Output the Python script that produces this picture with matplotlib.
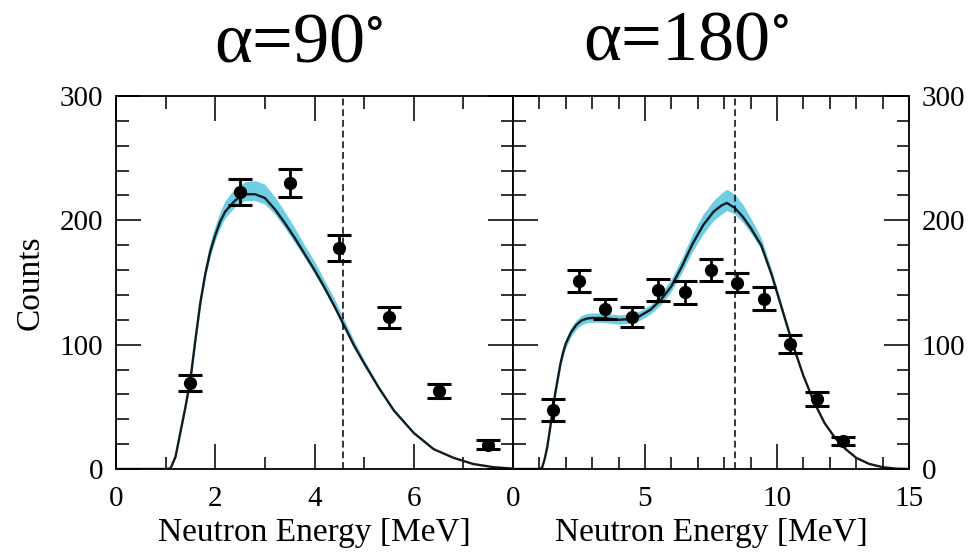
import numpy as np
import matplotlib
matplotlib.use("Agg")
import matplotlib.pyplot as plt
from matplotlib.ticker import MultipleLocator


# DATA
# alpha = 90 deg panel: measured points
e90 = [1.5, 2.5, 3.5, 4.5, 5.5, 6.5, 7.5]
c90 = [69, 223, 230, 178, 122, 63, 19.5]
err90 = [6.5, 10.5, 11.5, 10.5, 8.5, 5.5, 3.5]

# alpha = 90 deg panel: calculated spectrum and its band
x90 = [0, 1.0, 1.1, 1.2, 1.3, 1.4, 1.5, 1.6, 1.7, 1.8, 1.9, 2.0, 2.1, 2.2, 2.4,
       2.6, 2.8, 3.0, 3.2, 3.4, 3.6, 3.8, 4.0, 4.2, 4.4, 4.6, 4.8, 5.0, 5.3,
       5.6, 6.0, 6.4, 6.8, 7.2, 7.6, 8.0]
y90 = [0, 0, 0.5, 10, 30, 50, 72, 104, 134, 157, 175, 188, 199, 207, 216,
       221, 221, 218, 209, 198, 186, 173, 160, 146, 131, 115, 99, 85, 65,
       47, 29, 16, 9, 4, 1.5, 0.3]
hi90 = [0, 0, 0.5, 11, 32, 53, 76, 109, 140, 164, 183, 196, 207, 216, 226,
        231, 232, 229, 219, 207, 194, 180, 167, 152, 137, 120, 103, 88, 67,
        48.5, 30, 16.5, 9.3, 4.1, 1.5, 0.3]
lo90 = [0, 0, 0.5, 9, 28.5, 48, 69, 100, 130, 154, 171, 184, 194, 202, 211,
        216, 216, 213, 205, 194, 182, 170, 157, 143.5, 129, 113, 97.5, 84, 64,
        46.5, 28.5, 15.7, 8.8, 3.9, 1.5, 0.3]

# alpha = 180 deg panel: measured points
e180 = [1.5, 2.5, 3.5, 4.5, 5.5, 6.5, 7.5, 8.5, 9.5, 10.5, 11.5, 12.5]
c180 = [47.5, 151, 129, 122, 144, 142, 160, 150, 137, 100.5, 56.5, 22.5]
err180 = [8.5, 9, 8, 8, 9, 9, 9, 8, 9, 7.5, 5.5, 3.5]

# alpha = 180 deg panel: calculated spectrum and its band
x180 = [0, 1.0, 1.1, 1.2, 1.3, 1.4, 1.5, 1.6, 1.7, 1.8, 1.9, 2.0, 2.2, 2.4,
        2.6, 2.8, 3.0, 3.3, 3.6, 4.0, 4.4, 4.8, 5.2, 5.6, 6.0, 6.4, 6.8, 7.2,
        7.6, 7.9, 8.1, 8.4, 8.7, 9.0, 9.4, 9.8, 10.2, 10.6, 11.0, 11.4, 11.8,
        12.2, 12.6, 13.0, 13.5, 14.0, 14.5, 15.0]
y180 = [0, 0, 1, 8, 18, 32, 47, 61, 73, 85, 94, 101, 110, 116,
        119.5, 121, 121.5, 121.5, 121, 120, 120.5, 123, 128, 136, 147, 163, 181, 196,
        207, 212, 214, 210, 203, 194, 180, 156, 128, 100, 75, 54, 37,
        25, 16, 9, 4, 1.5, 0.3, 0]
hi180 = [0, 0, 1, 8.5, 19, 34, 50, 64, 77, 89, 98, 105, 114, 120,
         123.5, 125, 125.5, 125.5, 125, 124, 124.5, 127, 132, 141, 153, 170, 189, 205,
         216, 222, 225, 221, 213, 202, 186, 160, 131, 102, 76, 54.5, 37.3,
         25, 16, 9, 4, 1.5, 0.3, 0]
lo180 = [0, 0, 1, 7.5, 17, 30, 44, 58, 70, 82, 90.5, 97.5, 106.5, 112.5,
         116, 117.5, 118, 118, 117.5, 116.5, 117, 119.5, 124.5, 132, 143, 158, 175, 189,
         200, 205, 208, 205, 198.5, 190, 177, 154, 126, 98.5, 74, 53.5, 36.7,
         25, 16, 9, 4, 1.5, 0.3, 0]

# dashed reference energies
cut90 = 4.58
cut180 = 8.42

titles = ["\u03b1=90$^{\\circ}$", "\u03b1=180$^{\\circ}$"]


# FIGURE
plt.rcParams['font.family'] = ['Liberation Serif', 'DejaVu Serif']
plt.rcParams['mathtext.fontset'] = 'stix'

fig = plt.figure(figsize=(9.78, 5.54), dpi=100)
ax1 = fig.add_axes([116/978, 85/554, 397/978, 373/554])
ax2 = fig.add_axes([513/978, 85/554, 396/978, 373/554])

band_col = '#55c6de'
line_col = '#101c22'

panels = [
    (ax1, x90, y90, lo90, hi90, e90, c90, err90, cut90),
    (ax2, x180, y180, lo180, hi180, e180, c180, err180, cut180),
]
for ax, xs, ys, lo, hi, ex, cy, er, cut in panels:
    ax.fill_between(xs, lo, hi, color=band_col, lw=0, alpha=0.85, zorder=1)
    ax.plot(xs, ys, color=line_col, lw=1.7, zorder=2)
    ax.axvline(cut, color='black', lw=1.1, ls=(0, (4.5, 2.5)), zorder=2)
    ax.errorbar(ex, cy, yerr=er, fmt='o', color='black', ms=8.5,
                elinewidth=2, capsize=8.5, capthick=2.2, zorder=3)
    ax.set_ylim(0, 300)
    ax.yaxis.set_major_locator(MultipleLocator(100))
    ax.yaxis.set_minor_locator(MultipleLocator(20))
    ax.xaxis.set_minor_locator(MultipleLocator(1))
    ax.tick_params(which='both', direction='in', top=True, right=True,
                   width=1.3, color='#222222', labelsize=21)
    ax.tick_params(which='major', length=18)
    ax.tick_params(which='minor', length=9)
    ax.tick_params(axis='x', pad=12)
    ax.tick_params(axis='y', pad=9)
    for sp in ax.spines.values():
        sp.set_linewidth(1.3)
    ax.set_xlabel("Neutron Energy [MeV]", fontsize=24, labelpad=4)

# left panel
ax1.set_xlim(0, 8)
ax1.set_xticks([0, 2, 4, 6, 8])
ax1.set_xticklabels(['0', '2', '4', '6', ''])
ax1.set_ylabel("Counts", fontsize=24, labelpad=10)
ax1.tick_params(labelleft=True, labelright=False)

# right panel
ax2.set_xlim(0, 15)
ax2.set_xticks([0, 5, 10, 15])
ax2.tick_params(labelleft=False, labelright=True)

# titles
fig.text(299/978, 1 - 62/554, titles[0], fontsize=52, ha='center', va='baseline')
fig.text(686/978, 1 - 60/554, titles[1], fontsize=52, ha='center', va='baseline')

fig.savefig("out.png", dpi=100)
